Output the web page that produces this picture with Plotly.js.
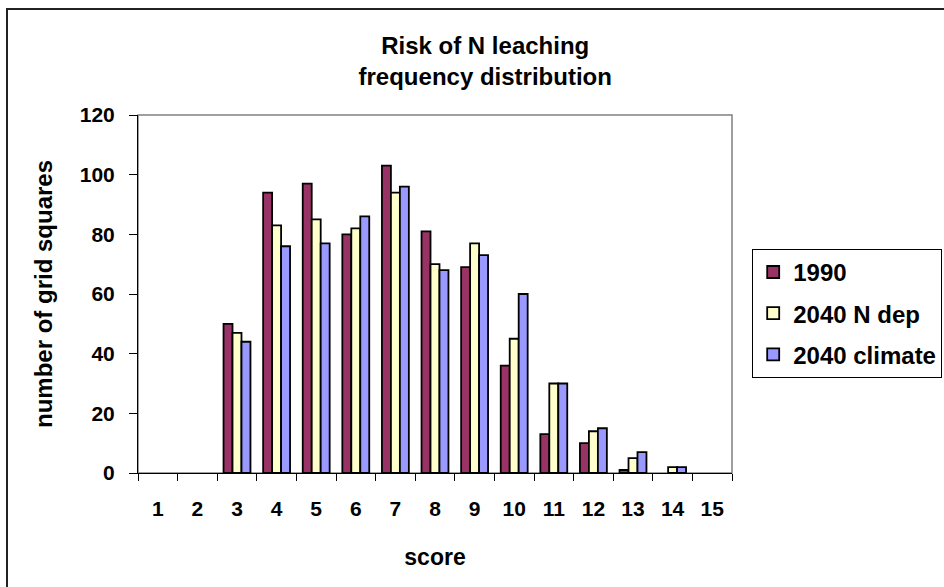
<!DOCTYPE html>
<html>
<head>
<meta charset="utf-8">
<script src="https://cdn.plot.ly/plotly-3.0.1.min.js"></script>
<style>
  html, body { margin: 0; padding: 0; background: #fff; overflow: hidden; }
  #chart { position: absolute; left: 0; top: 0; width: 944px; height: 587px; }
  #frame { position: absolute; left: 6px; top: 8px; width: 1000px; height: 1000px;
           border: 2px solid #222; pointer-events: none; }
</style>
</head>
<body>
<div id="chart"></div>
<div id="frame"></div>
<script>
const scores = ['1','2','3','4','5','6','7','8','9','10','11','12','13','14','15'];
const y1990 = [0, 0, 50, 94, 97, 80, 103, 81, 69, 36, 13, 10, 1, 0, 0];
const yNdep = [0, 0, 47, 83, 85, 82, 94, 70, 77, 45, 30, 14, 5, 2, 0];
const yClimate = [0, 0, 44, 76, 77, 86, 96, 68, 73, 60, 30, 15, 7, 2, 0];
const seriesNames = ['1990', '2040 N dep', '2040 climate'];
const seriesColors = ['#993366', '#FFFFCC', '#9999FF'];

const FONT = 'Liberation Sans, Arial, sans-serif';
const seriesValues = [y1990, yNdep, yClimate];

// zero-height bars are not drawn in the original, so they are passed as gaps
const traces = seriesValues.map((vals, i) => ({
  type: 'bar',
  x: scores,
  y: vals.map(v => (v === 0 ? null : v)),
  name: seriesNames[i],
  legendgroup: 'g' + i,
  marker: { color: seriesColors[i], line: { color: '#000', width: 1.8 } },
  hoverinfo: 'x+y+name'
}));

const layout = {
  width: 944,
  height: 587,
  paper_bgcolor: 'rgba(0,0,0,0)',
  plot_bgcolor: '#fff',
  margin: { l: 138, r: 212, t: 115, b: 114, autoexpand: false },
  font: { family: FONT, color: '#000', weight: 700 },
  title: {
    text: 'Risk of N leaching<br>frequency distribution',
    font: { family: FONT, size: 24, color: '#000', weight: 700 },
    x: 0.514, xref: 'container', xanchor: 'center',
    y: 0.908, yref: 'container', yanchor: 'top'
  },
  barmode: 'group',
  bargap: 0.32,
  bargroupgap: 0,
  showlegend: true,
  legend: {
    x: 1.034, xanchor: 'left',
    y: 0.626, yanchor: 'top',
    bordercolor: '#000', borderwidth: 1,
    bgcolor: '#fff',
    font: { family: FONT, size: 24, color: '#000', weight: 700 },
    tracegroupgap: 7,
    traceorder: 'grouped'
  },
  xaxis: {
    type: 'category',
    tickson: 'boundaries',
    ticks: 'outside', ticklen: 7, tickwidth: 1, tickcolor: '#000',
    showline: true, linecolor: '#000', linewidth: 1,
    showgrid: false, zeroline: false,
    ticklabelstandoff: 17,
    tickfont: { family: FONT, size: 21, color: '#000', weight: 700 },
    title: { text: 'score', standoff: 29, font: { family: FONT, size: 23, color: '#000', weight: 700 } }
  },
  yaxis: {
    range: [0, 120],
    dtick: 20,
    ticks: 'outside', ticklen: 8, tickwidth: 1, tickcolor: '#000',
    showline: true, linecolor: '#000', linewidth: 1,
    showgrid: false, zeroline: false,
    ticklabelstandoff: 10,
    tickfont: { family: FONT, size: 21, color: '#000', weight: 700 },
    title: { text: 'number of grid squares', standoff: 20, font: { family: FONT, size: 24, color: '#000', weight: 700 } }
  },
  shapes: [{
    type: 'rect', xref: 'paper', yref: 'paper', x0: 0, x1: 1, y0: 0, y1: 1,
    line: { color: '#808080', width: 1.5 }, layer: 'below'
  }]
};

Plotly.newPlot('chart', traces, layout, { displayModeBar: false, staticPlot: true });
</script>
</body>
</html>
